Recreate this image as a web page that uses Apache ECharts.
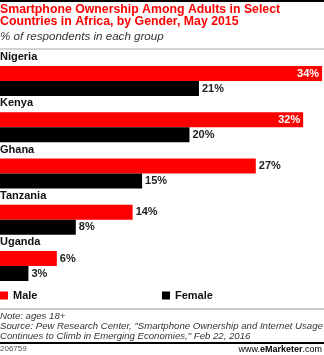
<!DOCTYPE html>
<html>
<head>
<meta charset="utf-8">
<script src="https://cdn.jsdelivr.net/npm/echarts@6/dist/echarts.min.js"></script>
<style>
html,body{margin:0;padding:0;background:#fff;}
#c{width:324px;height:355px;}
</style>
</head>
<body>
<div id="c"></div>
<script>
var categories = ['Nigeria', 'Kenya', 'Ghana', 'Tanzania', 'Uganda'];
var maleValues = [34, 32, 27, 14, 6];
var femaleValues = [21, 20, 15, 8, 3];
var seriesNames = ['Male', 'Female'];

var FONT = '"Liberation Sans", Arial, sans-serif';

function buildData(vals) {
  return vals.map(function (v) {
    if (v >= 30) {
      return { value: v, label: { position: 'insideRight', color: '#fff', distance: 3 } };
    }
    return { value: v };
  });
}

var labelStyle = {
  show: true,
  position: 'right',
  distance: 3,
  formatter: '{c}%',
  fontFamily: FONT,
  fontWeight: 'bold',
  fontSize: 11,
  color: '#222'
};

var chart = echarts.init(document.getElementById('c'), null, { renderer: 'canvas' });
chart.setOption({
  animation: false,
  backgroundColor: '#fff',
  grid: { left: 0, right: 0, top: 57.9, height: 231.25, containLabel: false, outerBoundsMode: 'none' },
  xAxis: {
    type: 'value', min: 0, max: 34.2,
    show: false
  },
  yAxis: {
    type: 'category',
    data: categories,
    inverse: true,
    z: 10,
    axisLine: { show: false },
    axisTick: { show: false },
    axisLabel: {
      inside: true,
      margin: 0,
      interval: 0,
      align: 'left',
      verticalAlign: 'bottom',
      lineHeight: 48,
      fontFamily: FONT,
      fontWeight: 'bold',
      fontSize: 11,
      color: '#111'
    }
  },
  legend: [
    { data: [seriesNames[0]], left: 0, top: 290, itemWidth: 8, itemHeight: 8, icon: 'rect', padding: 0,
      textStyle: { fontFamily: FONT, fontWeight: 'bold', fontSize: 11, color: '#111' } },
    { data: [seriesNames[1]], left: 162, top: 290, itemWidth: 8, itemHeight: 8, icon: 'rect', padding: 0,
      textStyle: { fontFamily: FONT, fontWeight: 'bold', fontSize: 11, color: '#111' } }
  ],
  series: [
    { name: seriesNames[0], type: 'bar', data: buildData(maleValues), barWidth: 15, barGap: '0%',
      itemStyle: { color: '#ff0000' }, label: labelStyle },
    { name: seriesNames[1], type: 'bar', data: buildData(femaleValues), barWidth: 15, barGap: '0%',
      itemStyle: { color: '#000000' }, label: labelStyle }
  ],
  graphic: [
    { type: 'rect', shape: { x: 0, y: 0, width: 324, height: 2 }, style: { fill: '#000' } },
    { type: 'text', left: 0, top: 4, style: {
        text: 'Smartphone Ownership Among Adults in Select\nCountries in Africa, by Gender, May 2015',
        font: 'bold 12.3px ' + FONT, fill: '#ff0000', lineHeight: 12 } },
    { type: 'text', left: 0, top: 31, style: {
        text: '% of respondents in each group',
        font: 'italic 11.6px ' + FONT, fill: '#333' } },
    { type: 'rect', shape: { x: 0, y: 48.5, width: 324, height: 1 }, style: { fill: '#aaa' } },
    { type: 'rect', shape: { x: 0, y: 308.5, width: 324, height: 1 }, style: { fill: '#999' } },
    { type: 'text', left: 0, top: 311, style: {
        text: 'Note: ages 18+\nSource: Pew Research Center, "Smartphone Ownership and Internet Usage\nContinues to Climb in Emerging Economies," Feb 22, 2016',
        font: 'italic 9.6px ' + FONT, fill: '#333', lineHeight: 10 } },
    { type: 'rect', shape: { x: 0, y: 342, width: 324, height: 2 }, style: { fill: '#000' } },
    { type: 'text', left: 0, top: 345, style: {
        text: '206759', font: '8px ' + FONT, fill: '#555' } },
    { type: 'text', right: 2, top: 345, style: {
        text: '{a|www.}{b|e}{c|Marketer}{a|.com}',
        rich: {
          a: { fontFamily: FONT, fontSize: 9, color: '#555' },
          b: { fontFamily: FONT, fontSize: 9, fontWeight: 'bold', color: '#ff0000' },
          c: { fontFamily: FONT, fontSize: 9, fontWeight: 'bold', color: '#222' }
        } } }
  ]
});
</script>
</body>
</html>
